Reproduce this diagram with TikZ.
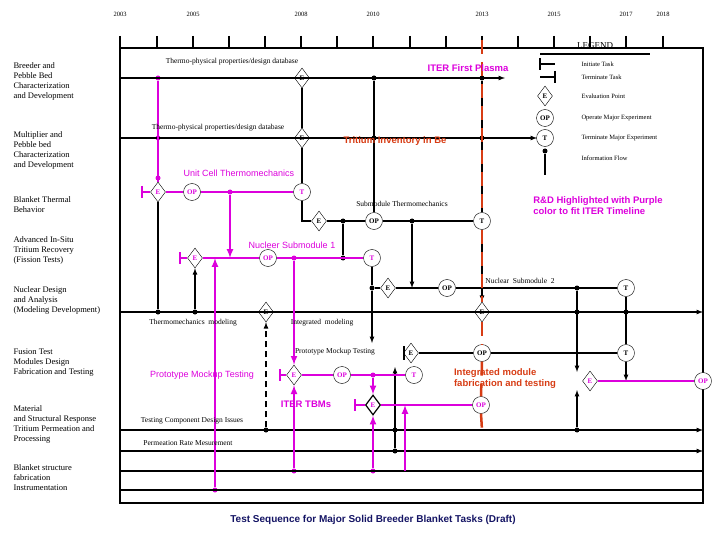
\documentclass[tikz,border=0pt]{standalone}
\usepackage{fontspec}
\setmainfont{Liberation Serif}
\newfontfamily\sansbf{Liberation Sans}
\usetikzlibrary{positioning,shapes,arrows}
\definecolor{Purp}{RGB}{220,0,220}
\definecolor{RedOr}{RGB}{215,60,20}
\definecolor{Navy}{RGB}{20,20,100}
\tikzstyle{EvalNode}=[diamond, draw=black, fill=white, inner sep=0.5pt, minimum width=15pt, minimum height=20pt, font=\fontsize{7}{7}\selectfont\bfseries]
\tikzstyle{OpNode}=[circle, draw=black, fill=white, inner sep=0pt, minimum size=17pt, font=\fontsize{7}{7}\selectfont\bfseries]
\tikzstyle{TermNode}=[OpNode]
\tikzstyle{Dot}=[circle, fill=black, inner sep=0pt, minimum size=5pt]
\tikzstyle{PDot}=[circle, fill=Purp, inner sep=0pt, minimum size=5pt]
\tikzstyle{RowLabel}=[anchor=west, align=left, font=\fontsize{8.5}{10}\selectfont]
\tikzstyle{TaskLabel}=[font=\fontsize{7.5}{8}\selectfont]
\tikzstyle{BigLabel}=[font=\sansbf\fontsize{9.5}{11}\selectfont\bfseries]
\tikzstyle{Flow}=[line width=1.2pt]
\tikzstyle{PFlow}=[line width=2pt, draw=Purp]
\tikzstyle{IterLine}=[RedOr, line width=2.5pt, dash pattern=on 14pt off 8pt]
\begin{document}
\begin{tikzpicture}[x=1pt, y=-1pt, >=latex]
  \useasboundingbox (0,0) rectangle (720,540);

  % time axis and frame
  \draw [Flow] (120,48) -- (703,48) -- (703,503) -- (120,503) -- cycle;
  \foreach \x in {120,157,193,229,265,301,337,373,410,446,482,518,554,590,626,663}
    \draw [Flow] (\x,36) -- (\x,48);
  \foreach \x/\yr in {120/2003,193/2005,301/2008,373/2010,482/2013,554/2015,626/2017,663/2018}
    \node [font=\fontsize{6.5}{6.5}\selectfont] at (\x,14) {\yr};

  % row labels
  \node [RowLabel] at (10,81) {Breeder and\\Pebble Bed\\Characterization\\and Development};
  \node [RowLabel] at (10,150) {Multiplier and\\Pebble bed\\Characterization\\and Development};
  \node [RowLabel] at (10,205) {Blanket Thermal\\Behavior};
  \node [RowLabel] at (10,250) {Advanced In-Situ\\Tritium Recovery\\(Fission Tests)};
  \node [RowLabel] at (10,300) {Nuclear Design\\and Analysis\\(Modeling Development)};
  \node [RowLabel] at (10,363) {Fusion Test\\Modules Design\\Fabrication and Testing};
  \node [RowLabel] at (10,424) {Material\\and Structural Response\\Tritium Permeation and\\Processing};
  \node [RowLabel] at (10,478) {Blanket structure\\fabrication\\Instrumentation};

  % nodes
  \node (e1) [EvalNode] at (302,78) {E};
  \node (e2) [EvalNode] at (302,138) {E};
  \node (eU) [EvalNode, text=Purp] at (158,192) {E};
  \node (opU) [OpNode, text=Purp] at (192,192) {OP};
  \node (tU) [TermNode, text=Purp] at (302,192) {T};
  \node (eS) [EvalNode] at (319,221) {E};
  \node (opS) [OpNode] at (374,221) {OP};
  \node (tS) [TermNode] at (482,221) {T};
  \node (eN1) [EvalNode, text=Purp] at (195,258) {E};
  \node (opN1) [OpNode, text=Purp] at (268,258) {OP};
  \node (tN1) [TermNode, text=Purp] at (372,258) {T};
  \node (eN2) [EvalNode] at (388,288) {E};
  \node (opN2) [OpNode] at (447,288) {OP};
  \node (tN2) [TermNode] at (626,288) {T};
  \node (eM) [EvalNode] at (266,312) {E};
  \node (eD) [EvalNode] at (482,312) {E};
  \node (eP) [EvalNode] at (411,353) {E};
  \node (opP) [OpNode] at (482,353) {OP};
  \node (tP) [TermNode] at (626,353) {T};
  \node (ePP) [EvalNode, text=Purp] at (294,375) {E};
  \node (opPP) [OpNode, text=Purp] at (342,375) {OP};
  \node (tPP) [TermNode, text=Purp] at (414,375) {T};
  \node (eI) [EvalNode, text=Purp] at (590,381) {E};
  \node (opI) [OpNode, text=Purp] at (703,381) {OP};
  \node (eT) [EvalNode, text=Purp, line width=1.2pt] at (373,405) {E};
  \node (opT) [OpNode, text=Purp] at (481,405) {OP};

  % dots
  \node (d1) [PDot] at (158,78) {};
  \node (d2) [Dot] at (374,78) {};
  \node (d3) [Dot] at (482,78) {};
  \node (d4) [PDot] at (158,138) {};
  \node (d5) [Dot] at (374,138) {};
  \node (d6) [Dot] at (482,138) {};
  \node (d7) [PDot] at (158,178) {};
  \node (d8) [PDot] at (230,192) {};
  \node (d9) [Dot] at (343,221) {};
  \node (d10) [Dot] at (412,221) {};
  \node (d11) [PDot] at (294,258) {};
  \node (d12) [Dot] at (343,258) {};
  \node (d13) [Dot] at (372,288) {};
  \node (d14) [Dot] at (577,288) {};
  \node (d15) [Dot] at (158,312) {};
  \node (d16) [Dot] at (195,312) {};
  \node (d17) [Dot] at (577,312) {};
  \node (d18) [Dot] at (626,312) {};
  \node (d19) [PDot] at (373,375) {};
  \node (d20) [Dot] at (266,430) {};
  \node (d21) [Dot] at (395,430) {};
  \node (d22) [Dot] at (395,451) {};
  \node (d23) [Dot] at (577,430) {};
  \node (d24) [PDot] at (294,471) {};
  \node (d25) [PDot] at (373,471) {};
  \node (d26) [PDot] at (215,490) {};

  % free ends
  \coordinate (b1) at (120,78);   \coordinate (a1) at (505,78);
  \coordinate (b2) at (120,138);  \coordinate (a2) at (537,138);
  \coordinate (b3) at (120,312);  \coordinate (a3) at (703,312);
  \coordinate (b4) at (120,430);  \coordinate (a4) at (703,430);
  \coordinate (b5) at (120,451);  \coordinate (a5) at (703,451);
  \coordinate (b6) at (120,471);  \coordinate (a6) at (703,471);
  \coordinate (b7) at (120,490);  \coordinate (a7) at (703,490);
  \coordinate (iU) at (142,192);  \coordinate (iN1) at (180,258);
  \coordinate (iP) at (404,353);  \coordinate (iPP) at (280,375);
  \coordinate (iT) at (355,405);  \coordinate (k1) at (230,258);
  \coordinate (k2) at (215,258);  \coordinate (k3) at (302,221);
  \coordinate (k4) at (372,343);  \coordinate (k5) at (412,288);
  \coordinate (k6) at (577,372);  \coordinate (k7) at (577,390);
  \coordinate (k8) at (626,381);  \coordinate (k9) at (405,405);
  \coordinate (k10) at (405,471);
  \coordinate (r1) at (482,40);   \coordinate (r2) at (482,430);

  % black information flow
  \draw [Flow,->] (b1) -- (a1);
  \draw [Flow,->] (b2) -- (a2);
  \draw [Flow,->] (b3) -- (a3);
  \draw [Flow,->] (b4) -- (a4);
  \draw [Flow,->] (b5) -- (a5);
  \draw [Flow] (b6) -- (a6);
  \draw [Flow] (b7) -- (a7);
  \draw [Flow] (e1) -- (e2);
  \draw [Flow] (e2) -- (tU);
  \draw [Flow] (tU) -- (k3) -- (eS);
  \draw [Flow] (eS) -- (opS) -- (tS);
  \draw [Flow] (d2) -- (opS);
  \draw [Flow] (d3) -- (tS);
  \draw [Flow] (d9) -- (d12);
  \draw [Flow,->] (d10) -- (k5);
  \draw [Flow,->] (tS) -- (eD);
  \draw [Flow] (eN2) -- (opN2) -- (tN2);
  \draw [Flow] (tN1) -- (d13) -- (eN2);
  \draw [Flow,->] (d13) -- (k4);
  \draw [Flow] (eU) -- (d15);
  \draw [Flow,->] (d16) -- (eN1);
  \draw [Flow,->] (d14) -- (k6);
  \draw [Flow,->] (d23) -- (k7);
  \draw [Flow] (tN2) -- (tP);
  \draw [Flow,->] (tP) -- (k8);
  \draw [Flow] (eP) -- (opP) -- (tP);
  \draw [Flow] (iP) -- (eP);
  \draw [Flow] (iP) ++(0,-7) -- ++(0,14);
  \draw [Flow,->] (d22) -- ++(0,-84);
  \draw [Flow,->,dash pattern=on 6pt off 4pt] (d20) -- (eM);

  % purple R&D flow
  \draw [PFlow] (d1) -- (eU);
  \draw [PFlow] (iU) -- (eU) -- (opU) -- (tU);
  \draw [PFlow] (iU) ++(0,-6) -- ++(0,12);
  \draw [PFlow,->] (d8) -- (k1);
  \draw [PFlow] (iN1) -- (eN1) -- (opN1) -- (tN1);
  \draw [PFlow] (iN1) ++(0,-6) -- ++(0,12);
  \draw [PFlow,->] (d26) -- (k2);
  \draw [PFlow,->] (d11) -- (ePP);
  \draw [PFlow] (iPP) -- (ePP) -- (opPP) -- (tPP);
  \draw [PFlow] (iPP) ++(0,-6) -- ++(0,12);
  \draw [PFlow,->] (d24) -- (ePP);
  \draw [PFlow,->] (d19) -- (eT);
  \draw [PFlow] (iT) -- (eT) -- (opT);
  \draw [PFlow] (iT) ++(0,-6) -- ++(0,12);
  \draw [PFlow,->] (d25) -- (eT);
  \draw [PFlow,->] (k10) -- (k9);
  \draw [PFlow] (eI) -- (opI);

  % ITER timeline
  \draw [IterLine] (r1) -- (tS.north);
  \draw [IterLine] (tS.south) -- (eD.north);
  \draw [IterLine] (eD.south) -- (opP.north);
  \draw [IterLine] (opP.south) -- (opT.north);
  \draw [IterLine] (opT.south) -- (r2);

  % task labels
  \node [TaskLabel] at (232,62) {Thermo-physical properties/design database};
  \node [TaskLabel] at (218,128) {Thermo-physical properties/design database};
  \node [TaskLabel] at (402,204) {Submodule Thermomechanics};
  \node [TaskLabel] at (520,281) {Nuclear\ \ Submodule\ \ 2};
  \node [TaskLabel] at (193,323) {Thermomechanics\ \ modeling};
  \node [TaskLabel] at (322,323) {Integrated\ \ modeling};
  \node [TaskLabel] at (335,352) {Prototype Mockup Testing};
  \node [TaskLabel] at (192,421) {Testing Component Design Issues};
  \node [TaskLabel] at (188,443) {Permeation Rate Mesurement};
  \node [text=Purp, font=\sansbf\fontsize{9}{10}\selectfont] at (239,173) {Unit Cell Thermomechanics};
  \node [text=Purp, font=\sansbf\fontsize{9}{10}\selectfont] at (292,245) {Nucleer Submodule 1};
  \node [text=Purp, font=\sansbf\fontsize{9}{10}\selectfont] at (202,375) {Prototype Mockup Testing};
  \node [BigLabel, text=Purp] at (468,68) {ITER First Plasma};
  \node [BigLabel, text=RedOr] at (395,141) {Tritium Inventory in Be};
  \node [BigLabel, text=Purp] at (306,404) {ITER TBMs};
  \node [BigLabel, text=RedOr, align=left] at (505,379) {Integrated module\\fabrication and testing};
  \node [BigLabel, text=Purp, align=left] at (598,206) {R\&D Highlighted with Purple\\color to fit ITER Timeline};
  \node [BigLabel, text=Navy, font=\sansbf\fontsize{10}{11}\selectfont\bfseries] at (373,520) {Test Sequence for Major Solid Breeder Blanket Tasks (Draft)};

  % legend
  \node (legend) [font=\fontsize{9}{10}\selectfont] at (595,46) {LEGEND};
  \draw [Flow] (540,54) -- (650,54);
  \coordinate (li) at (540,64);
  \draw [Flow] (li) ++(0,-6) -- ++(0,12);
  \draw [Flow] (li) -- ++(15,0);
  \coordinate (lt) at (555,77);
  \draw [Flow] (lt) ++(0,-6) -- ++(0,12);
  \draw [Flow] (lt) -- ++(-15,0);
  \node (lE) [EvalNode] at (545,96) {E};
  \node (lOP) [OpNode] at (545,118) {OP};
  \node (lT) [TermNode] at (545,138) {T};
  \node (lD) [Dot] at (545,151) {};
  \coordinate (lF) at (545,175);
  \draw [Flow] (lD) -- (lF);
  \foreach \y/\txt in {64/Initiate Task,77/Terminate Task,96/Evaluation Point,118/Operate Major Experiment,138/Terminate Major Experiment,158/Information Flow}
    \node [anchor=west, font=\fontsize{6.5}{7}\selectfont] at (578,\y) {\txt};
\end{tikzpicture}
\end{document}
